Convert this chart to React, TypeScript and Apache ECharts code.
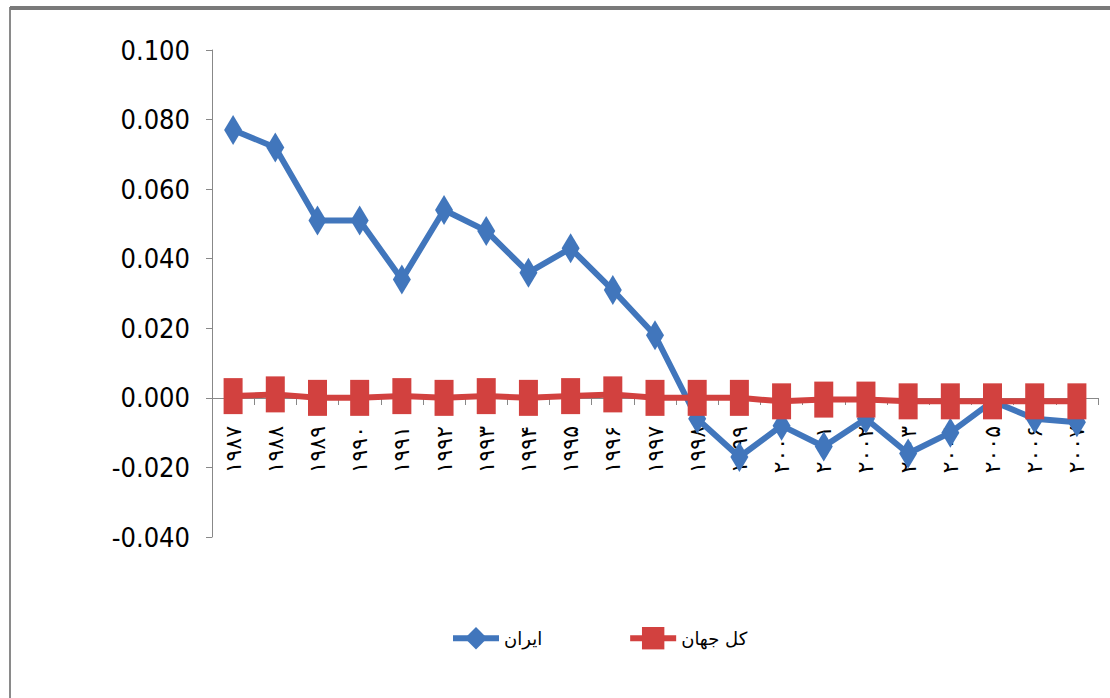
import React, { useEffect, useRef } from "react";
import * as echarts from "echarts";

const years = ["۱۹۸۷","۱۹۸۸","۱۹۸۹","۱۹۹۰","۱۹۹۱","۱۹۹۲","۱۹۹۳","۱۹۹۴","۱۹۹۵","۱۹۹۶","۱۹۹۷","۱۹۹۸","۱۹۹۹","۲۰۰۰","۲۰۰۱","۲۰۰۲","۲۰۰۳","۲۰۰۴","۲۰۰۵","۲۰۰۶","۲۰۰۷"];
const iran = [0.077, 0.072, 0.051, 0.051, 0.034, 0.054, 0.048, 0.036, 0.043, 0.031, 0.018, -0.006, -0.017, -0.008, -0.014, -0.006, -0.016, -0.010, -0.001, -0.006, -0.007];
const world = [0.0005, 0.001, 0.0, 0.0, 0.0005, 0.0, 0.0005, 0.0, 0.0005, 0.001, 0.0, 0.0, 0.0, -0.001, -0.0005, -0.0005, -0.001, -0.001, -0.001, -0.001, -0.001];
const seriesNames = ["ایران", "کل جهان"];

const Y_MIN = -0.04;
const Y_MAX = 0.1;
const GRID_TOP = 50;
const GRID_BOTTOM = 161;
const CHART_H = 698;

export default function App() {
  const ref = useRef<HTMLDivElement>(null);
  useEffect(() => {
    if (!ref.current) return;
    const chart = echarts.init(ref.current, null, { renderer: "svg" });
    const narrow = "'Liberation Sans Narrow', 'DejaVu Sans Condensed', 'Liberation Sans', sans-serif";
    const plotH = CHART_H - GRID_TOP - GRID_BOTTOM;
    // move the category axis (line + labels) up to the value 0
    const zeroOffset = -Math.round((0 - Y_MIN) / (Y_MAX - Y_MIN) * plotH);
    chart.setOption({
      animation: false,
      backgroundColor: "#ffffff",
      graphic: [
        {
          type: "rect",
          shape: { x: 10, y: 8, width: 1110, height: 700 },
          style: { fill: "none", stroke: "#8a8a8a", lineWidth: 2 },
          silent: true,
        },
        {
          type: "line",
          shape: { x1: 10, y1: 8, x2: 1110, y2: 8 },
          style: { stroke: "#7a7a7a", lineWidth: 4 },
          silent: true,
        },
      ],
      grid: { left: 212, right: 12, top: GRID_TOP, bottom: GRID_BOTTOM },
      legend: {
        top: 622,
        left: 445,
        itemGap: 85,
        itemWidth: 46,
        itemHeight: 28,
        lineStyle: { width: 6 },
        textStyle: { fontFamily: "'DejaVu Sans', sans-serif", fontSize: 18, color: "#000" },
        data: seriesNames,
      },
      xAxis: {
        type: "category",
        data: years,
        boundaryGap: true,
        offset: zeroOffset,
        axisLine: { onZero: false, lineStyle: { color: "#888", width: 1 } },
        axisTick: { show: true, interval: 0, length: 7, lineStyle: { color: "#888" } },
        axisLabel: {
          interval: 0,
          rotate: 90,
          margin: 28,
          fontSize: 22,
          color: "#000",
          fontFamily: "'DejaVu Sans', sans-serif",
        },
        splitLine: { show: false },
        z: 1,
      },
      yAxis: {
        type: "value",
        min: Y_MIN,
        max: Y_MAX,
        interval: 0.02,
        axisLine: { show: true, lineStyle: { color: "#888", width: 1 } },
        axisTick: { show: true, length: 6, lineStyle: { color: "#888" } },
        splitLine: { show: false },
        axisLabel: {
          formatter: (v: number) => v.toFixed(3),
          fontSize: 27,
          margin: 22,
          color: "#000",
          fontFamily: narrow,
        },
      },
      series: [
        {
          name: seriesNames[0],
          type: "line",
          data: iran,
          symbol: "diamond",
          symbolSize: [18, 30],
          lineStyle: { color: "#4176BC", width: 6 },
          itemStyle: { color: "#4176BC" },
          z: 3,
        },
        {
          name: seriesNames[1],
          type: "line",
          data: world,
          symbol: "rect",
          symbolSize: [19, 36],
          lineStyle: { color: "#D2413F", width: 6 },
          itemStyle: { color: "#D2413F" },
          z: 4,
        },
      ],
    });
    return () => chart.dispose();
  }, []);
  return <div ref={ref} style={{ position: "fixed", left: 0, top: 0, width: 1110, height: 698 }} />;
}
